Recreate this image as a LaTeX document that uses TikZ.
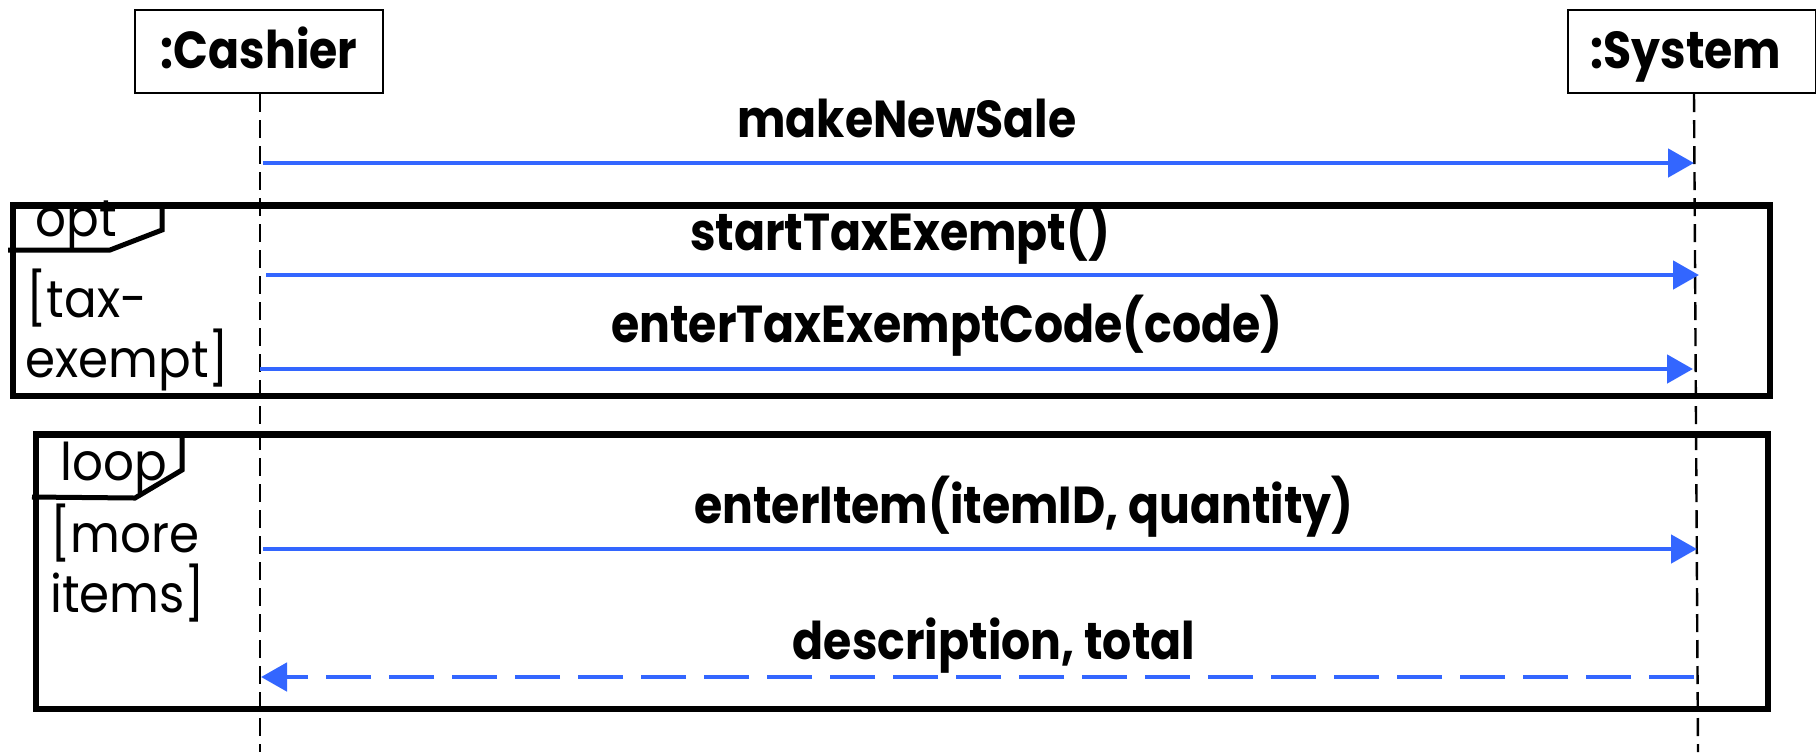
\documentclass[tikz,border=0pt]{standalone}
\usepackage{fontspec}
\setmainfont{Poppins}[FakeStretch=0.93]
\newfontfamily\lblfont{Poppins}[FakeStretch=0.88]
\usetikzlibrary{arrows.meta}
\definecolor{msgblue}{RGB}{51,102,255}
\tikzset{
  lifebox/.style={draw, line width=1pt, minimum width=124pt, minimum height=41.5pt, inner sep=0pt},
  lifeline/.style={line width=1.2pt, dash pattern=on 9pt off 4pt},
  msg/.style={draw=msgblue, line width=2.4pt, -{Triangle[length=13pt,width=14pt]}},
  reply/.style={draw=msgblue, line width=2.4pt, dash pattern=on 22.5pt off 9pt, -{Triangle[length=13pt,width=14pt]}},
  frame/.style={draw, line width=3.2pt},
  tab/.style={draw, line width=2.5pt},
  lbl/.style={font=\lblfont\fontsize{26}{30}\selectfont\bfseries, anchor=base, inner sep=0pt},
  guard/.style={font=\fontsize{26}{30}\selectfont, anchor=base west, inner sep=0pt}
}
\begin{document}
\begin{tikzpicture}[x=0.5pt,y=-0.5pt]
\useasboundingbox (0,0) rectangle (1816,752);
% lifeline heads
\node[lifebox] (cashier) at (259,51.5) {};
\node[lifebox] (system) at (1691.5,51.5) {};
\node[lbl] (cashiert) at (259,68) {:Cashier};
\node[lbl] (systemt) at (1686,68) {:System};
\coordinate (cend) at (260,752);
\coordinate (send) at (1698,752);
\draw[lifeline] (cashier.south -| 260,0) -- (cend);
\draw[lifeline] (system.south -| 1694,0) -- (send);
% frames
\draw[frame] (13,205.5) rectangle (1770,396);
\draw[tab] (8,250) -- (110,250) -- (162,230) -- (162,205.5);
\node[guard] (optl) at (35,236) {opt};
\node[guard] (g1) at (26,317) {[tax-};
\node[guard] (g2) at (25,377) {exempt]};
\draw[frame] (36,434.5) rectangle (1768,709);
\draw[tab] (32,497) -- (135,498) -- (182,470) -- (182,434.5);
\node[guard] (loopl) at (60,480) {loop};
\node[guard] (g3) at (50,552) {[more};
\node[guard] (g4) at (50,612) {items]};
% messages
\coordinate (m1a) at (263,163); \coordinate (m1b) at (1694,163);
\coordinate (m2a) at (266,275); \coordinate (m2b) at (1699,275);
\coordinate (m3a) at (260,369); \coordinate (m3b) at (1693,369);
\coordinate (m4a) at (263,549); \coordinate (m4b) at (1697,549);
\coordinate (m5a) at (1694,677); \coordinate (m5b) at (261,677);
\draw[msg] (m1a) -- (m1b);
\draw[msg] (m2a) -- (m2b);
\draw[msg] (m3a) -- (m3b);
\draw[msg] (m4a) -- (m4b);
\draw[reply] (m5a) -- (m5b);
\node[lbl] (l1) at (907,137) {makeNewSale};
\node[lbl] (l2) at (900,250) {startTaxExempt()};
\node[lbl] (l3) at (947,342) {enterTaxExemptCode(code)};
\node[lbl] (l4) at (1024,523) {enterItem(itemID, quantity)};
\node[lbl] (l5) at (994,659) {description, total};
\end{tikzpicture}
\end{document}
